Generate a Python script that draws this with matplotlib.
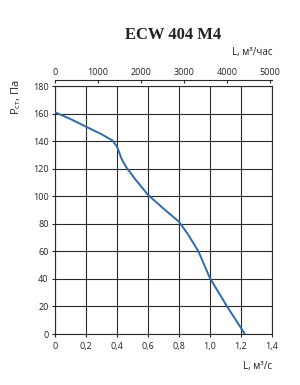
import matplotlib
matplotlib.use("Agg")
import matplotlib.pyplot as plt

# Data
flow_m3s = [0, 0.1, 0.2, 0.3, 0.37, 0.40, 0.43, 0.46, 0.52, 0.6, 0.7, 0.8, 0.86, 0.925, 1.0, 1.11, 1.225]
pressure_pa = [161, 156, 150.5, 145, 140.5, 136, 127, 121, 112, 101, 91, 81.5, 72, 60, 40.5, 20, 0]

x_ticks = [0, 0.2, 0.4, 0.6, 0.8, 1.0, 1.2, 1.4]
x_labels = ["0", "0,2", "0,4", "0,6", "0,8", "1,0", "1,2", "1,4"]
y_ticks = [0, 20, 40, 60, 80, 100, 120, 140, 160, 180]
top_ticks = [0, 1000, 2000, 3000, 4000, 5000]
top_labels = ["0", "1000", "2000", "3000", "4000", "5000"]

title = "ECW 404 M4"

plt.rcParams['font.family'] = ['Open Sans', 'DejaVu Sans']

fig = plt.figure(figsize=(3.0, 3.85), dpi=100)
ax = fig.add_axes([55/300, 1-334/385, 217/300, 248/385])

ax.plot(flow_m3s, pressure_pa, color="#2b6cb0", lw=1.4, zorder=3, solid_capstyle='butt')

ax.set_xlim(0, 1.4)
ax.set_ylim(0, 180)
ax.set_xticks(x_ticks)
ax.set_xticklabels(x_labels)
ax.set_yticks(y_ticks)
ax.grid(True, color="#2a2a2a", lw=0.8)
for s in ax.spines.values():
    s.set_color("#2a2a2a")
    s.set_linewidth(0.8)
ax.tick_params(axis='both', labelsize=6.5, colors="#222222", length=2, width=0.8, pad=2.5)
ax.tick_params(axis='x', pad=4)

sec = ax.secondary_xaxis(1.026, functions=(lambda v: v*3600, lambda v: v/3600))
sec.set_xticks(top_ticks)
sec.set_xticklabels(top_labels)
sec.tick_params(axis='x', direction='in', length=2.5, width=0.8, labelsize=6.5, colors="#222222", pad=2)
sec.spines['top'].set_color("#2a2a2a")
sec.spines['top'].set_linewidth(0.8)

fig.text(173/300, 1-35/385, title, ha='center', va='center', fontsize=12, fontweight='bold',
         family=['Liberation Serif', 'DejaVu Serif'], color="#222222")
fig.text(272/300, 1-53/385, "L, м³/час", ha='right', va='center', fontsize=7, color="#222222")
fig.text(272/300, 1-367/385, "L, м³/с", ha='right', va='center', fontsize=7, color="#222222")
fig.text(16/300, 1-97/385, r"Р$_\mathregular{ст}$, Па", ha='center', va='center', rotation=90,
         fontsize=8, color="#222222")

fig.savefig("out.png", dpi=100)
